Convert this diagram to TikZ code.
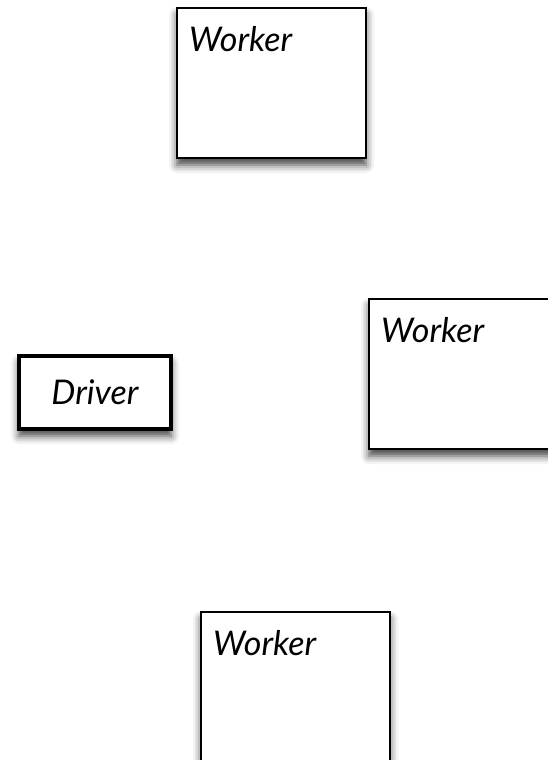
\documentclass[tikz,border=0pt]{standalone}
\usepackage{fontspec}
\setsansfont{Lato}
\usepackage{tikz}
\usetikzlibrary{shadows.blur}

\begin{document}
\begin{tikzpicture}[x=1pt,y=-1pt]
	\tikzset{boxfont/.style={font=\sffamily\itshape\fontsize{34}{38}\selectfont}};
	\tikzset{boxshadow/.style={blur shadow={shadow xshift=0pt, shadow yshift=-7pt, shadow blur radius=8pt, shadow opacity=75}}};
	\tikzset{worker/.style={draw, line width=2pt, fill=white, minimum width=189pt, minimum height=150pt, inner sep=0pt, boxshadow,
		label={[boxfont, anchor=north west, inner sep=0pt, xshift=13pt, yshift=-19pt]north west:Worker}}};
	\useasboundingbox (0,0) rectangle (548,760);
	
	\node[worker] (worker1) at (271.5,83) {};
	\node[worker] (worker2) at (463.5,374) {};
	\node[worker] (worker3) at (295.5,687) {};
	
	\node[draw, line width=4pt, fill=white, minimum width=152pt, minimum height=73pt, inner sep=0pt, boxfont, boxshadow] (driver) at (95,392.5) {Driver};
\end{tikzpicture}
\end{document}
